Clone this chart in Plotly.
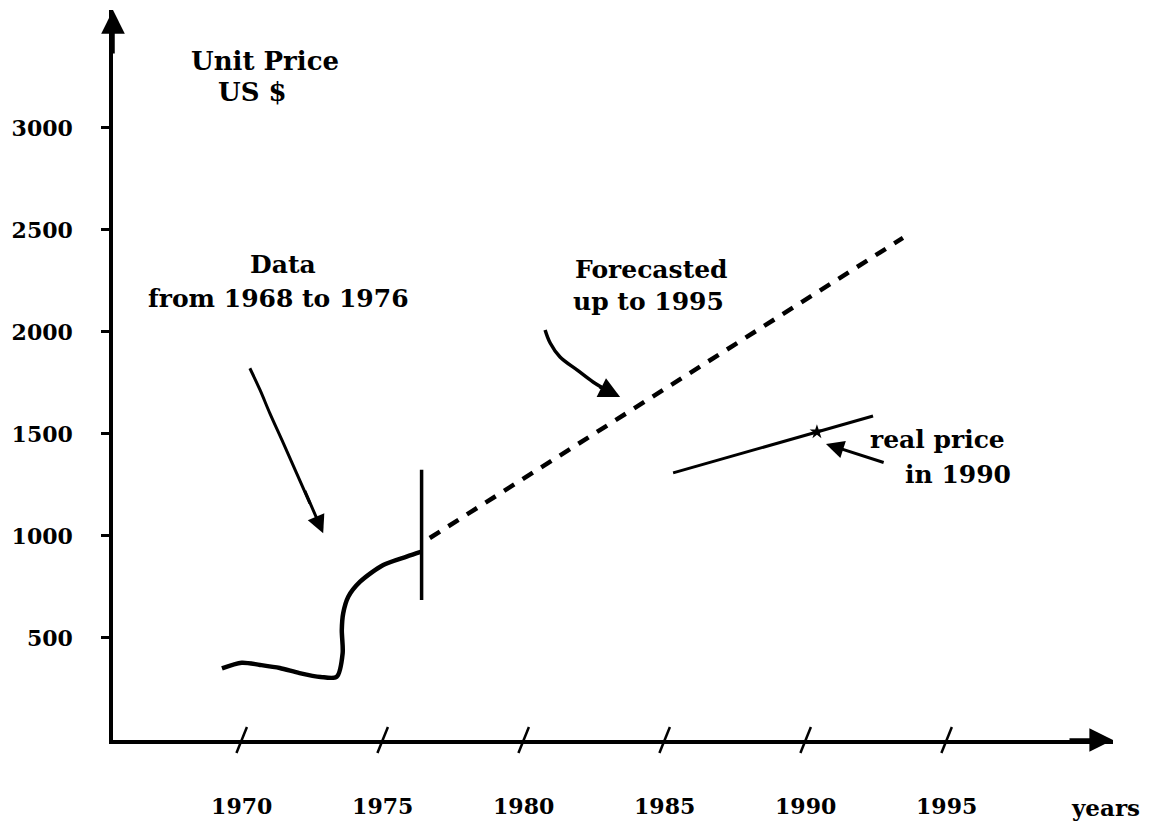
import plotly.graph_objects as go

# ---------------- data ----------------
hist_year = [1969.3, 1970.0, 1970.65, 1971.35, 1972.05, 1972.8, 1973.37, 1973.58,
             1973.55, 1973.6, 1973.78, 1974.2, 1975.02, 1975.85, 1976.38]
hist_price = [351, 379, 368, 353, 328, 309, 310, 425, 539, 621, 702, 776, 858, 899, 923]

cut_year = [1976.38, 1976.38]
cut_price = [686, 1324]

forecast_year = [1976.67, 1993.45]
forecast_price = [990, 2461]

real_year = [1985.3, 1992.39]
real_price = [1309, 1588]

real1990_year = [1990.4]
real1990_price = [1510]

x_tick_years = [1970, 1975, 1980, 1985, 1990, 1995]
x_tick_labels = ["1970", "1975", "1980", "1985", "1990", "1995"]
y_tick_vals = [500, 1000, 1500, 2000, 2500, 3000]
y_tick_labels = ["500", "1000", "1500", "2000", "2500", "3000"]

# hand-drawn pointer arrows (shaft points, in data units)
data_arrow_year = [1970.29, 1970.65, 1971.0, 1971.48, 1971.95, 1972.42]
data_arrow_price = [1822, 1716, 1601, 1454, 1307, 1160]
data_arrow_tip = (1972.89, 1013)

fc_arrow_year = [1980.76, 1980.94, 1981.29, 1981.89, 1982.46, 1983.06]
fc_arrow_price = [2010, 1946, 1877, 1814, 1755, 1706]
fc_arrow_tip = (1983.42, 1681)

real_arrow_tail = (1992.82, 1358)
real_arrow_tip = (1990.72, 1451)

X_RANGE = [1965.436, 2000.9]
Y_RANGE = [0, 3578]

FONT = "DejaVu Serif"
INK = "black"

fig = go.Figure()

# historical data curve
fig.add_trace(go.Scatter(x=hist_year, y=hist_price, mode="lines",
                         line=dict(color=INK, width=4.5, shape="spline", smoothing=0.8),
                         hoverinfo="skip", showlegend=False))
# vertical cut mark
fig.add_trace(go.Scatter(x=cut_year, y=cut_price, mode="lines",
                         line=dict(color=INK, width=3.5),
                         hoverinfo="skip", showlegend=False))
# forecast dashed line
fig.add_trace(go.Scatter(x=forecast_year, y=forecast_price, mode="lines",
                         line=dict(color=INK, width=4.5, dash="12px,10px"),
                         hoverinfo="skip", showlegend=False))
# real price line
fig.add_trace(go.Scatter(x=real_year, y=real_price, mode="lines",
                         line=dict(color=INK, width=3),
                         hoverinfo="skip", showlegend=False))
fig.add_trace(go.Scatter(x=real1990_year, y=real1990_price, mode="markers",
                         marker=dict(symbol="star", size=11, color=INK),
                         hoverinfo="skip", showlegend=False))
# pointer arrow shafts
fig.add_trace(go.Scatter(x=data_arrow_year, y=data_arrow_price, mode="lines",
                         line=dict(color=INK, width=3, shape="spline"),
                         hoverinfo="skip", showlegend=False))
fig.add_trace(go.Scatter(x=fc_arrow_year, y=fc_arrow_price, mode="lines",
                         line=dict(color=INK, width=3.5, shape="spline"),
                         hoverinfo="skip", showlegend=False))
# slanted x-axis tick marks
fig.add_trace(go.Scatter(x=x_tick_years, y=[0] * len(x_tick_years), mode="markers",
                         marker=dict(symbol="line-ns", size=20, angle=22,
                                     line=dict(color=INK, width=2.5)),
                         cliponaxis=False, hoverinfo="skip", showlegend=False))

annotations = []
# axis arrowheads
annotations.append(dict(x=X_RANGE[0], y=Y_RANGE[1], xref="x", yref="y", text="",
                        showarrow=True, ax=0, ay=45, arrowhead=2, arrowsize=1.35,
                        arrowwidth=3.5, arrowcolor=INK))
annotations.append(dict(x=X_RANGE[1], y=0, xref="x", yref="y", text="",
                        showarrow=True, ax=-45, ay=0, arrowhead=2, arrowsize=1.35,
                        arrowwidth=3.5, arrowcolor=INK))
# pointer arrowheads
annotations.append(dict(x=data_arrow_tip[0], y=data_arrow_tip[1], xref="x", yref="y",
                        text="", showarrow=True, ax=-19, ay=-44, arrowhead=2,
                        arrowsize=1.2, arrowwidth=3, arrowcolor=INK))
annotations.append(dict(x=fc_arrow_tip[0], y=fc_arrow_tip[1], xref="x", yref="y",
                        text="", showarrow=True, ax=-22, ay=-11, arrowhead=2,
                        arrowsize=1.2, arrowwidth=3.5, arrowcolor=INK))
annotations.append(dict(x=real_arrow_tip[0], y=real_arrow_tip[1], xref="x", yref="y",
                        text="", showarrow=True, axref="x", ayref="y",
                        ax=real_arrow_tail[0], ay=real_arrow_tail[1], arrowhead=2,
                        arrowsize=1.2, arrowwidth=3, arrowcolor=INK))

def label(txt, x, y, size=25):
    return dict(x=x, y=y, xref="x", yref="y", text="<b>" + txt + "</b>",
                showarrow=False, xanchor="center", yanchor="middle",
                font=dict(family=FONT, size=size, color=INK))

annotations += [
    label("Unit Price", 1970.83, 3328, 26),
    label("US $", 1970.37, 3176, 26),
    label("Data", 1971.46, 2333),
    label("from 1968 to 1976", 1971.32, 2162),
    label("Forecasted", 1984.53, 2304),
    label("up to 1995", 1984.44, 2147),
    label("real price", 1994.69, 1471),
    label("in 1990", 1995.40, 1299),
]
annotations.append(dict(x=0.992, y=-0.093, xref="paper", yref="paper",
                        text="<b>years</b>", showarrow=False,
                        xanchor="center", yanchor="middle",
                        font=dict(family=FONT, size=23, color=INK)))

# the page body adds an 8px margin, so the figure is 16px smaller than the window
fig.update_layout(
    width=1135, height=814, autosize=False,
    margin=dict(l=105, r=30, t=2, b=82),
    paper_bgcolor="white", plot_bgcolor="white",
    font=dict(family=FONT, color=INK),
    annotations=annotations,
    xaxis=dict(range=X_RANGE, showgrid=False, zeroline=False, automargin=False,
               showline=True, linecolor=INK, linewidth=3.5,
               tickmode="array", tickvals=x_tick_years, ticktext=x_tick_labels,
               ticks="", ticklabelstandoff=44,
               tickfont=dict(family=FONT, size=22, color=INK, weight="bold")),
    yaxis=dict(range=Y_RANGE, showgrid=False, zeroline=False, automargin=False,
               showline=True, linecolor=INK, linewidth=3.5,
               tickmode="array", tickvals=y_tick_vals, ticktext=y_tick_labels,
               ticks="outside", ticklen=8, tickwidth=2.5, tickcolor=INK,
               ticklabelstandoff=24,
               tickfont=dict(family=FONT, size=22, color=INK, weight="bold")),
)

fig.write_html("out.html")
